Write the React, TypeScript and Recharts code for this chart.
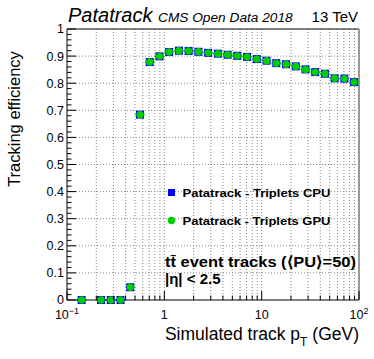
import {
  ScatterChart,
  Scatter,
  XAxis,
  YAxis,
  CartesianGrid,
  ErrorBar,
  ReferenceLine,
} from "recharts";

// bin centres in simulated track pT (GeV), log-spaced bins
const ptCenters = [
  0.1413, 0.2239, 0.2818, 0.3548, 0.4467, 0.5623, 0.7079, 0.8913,
  1.122, 1.413, 1.778, 2.239, 2.818, 3.548, 4.467, 5.623, 7.079, 8.913,
  11.22, 14.13, 17.78, 22.39, 28.18, 35.48, 44.67, 56.23, 70.79, 89.13,
];

const cpuEff = [
  0, 0, 0, 0, 0.047, 0.684, 0.878, 0.899,
  0.915, 0.92, 0.919, 0.916, 0.912, 0.909, 0.905, 0.901, 0.897, 0.889,
  0.883, 0.874, 0.87, 0.862, 0.851, 0.841, 0.835, 0.818, 0.817, 0.804,
];

const gpuEff = [
  0, 0, 0, 0, 0.047, 0.684, 0.878, 0.899,
  0.915, 0.92, 0.919, 0.916, 0.912, 0.909, 0.905, 0.901, 0.897, 0.889,
  0.883, 0.874, 0.87, 0.862, 0.851, 0.841, 0.835, 0.818, 0.817, 0.804,
];

const xTicks = [
  0.1, 0.2, 0.3, 0.4, 0.5, 0.6, 0.7, 0.8, 0.9,
  1, 2, 3, 4, 5, 6, 7, 8, 9,
  10, 20, 30, 40, 50, 60, 70, 80, 90, 100,
];
const xGrid = xTicks.filter((v) => v > 0.1 && v < 100);

const yTicks: number[] = [];
for (let i = 0; i <= 50; i++) yTicks.push(Math.round(i * 2) / 100);

const FONT = "'Liberation Sans', Arial, Helvetica, sans-serif";
const GREEN = "#00cc00";
const BLUE = "#0000ff";

// half bin width (bins are 0.1 decades wide)
const halfBin = Math.pow(10, 0.05);
const toRows = (eff: number[]) =>
  ptCenters.map((pt, i) => ({
    x: pt,
    y: eff[i],
    ex: [pt - pt / halfBin, pt * halfBin - pt],
  }));

const cpuData = toRows(cpuEff);
const gpuData = toRows(gpuEff);

const isMajorY = (v: number) => Math.abs(v * 10 - Math.round(v * 10)) < 1e-6;

const YTick = (props: any) => {
  const { x, y, payload } = props;
  const v = payload.value;
  const axisX = x + 3;
  const major = isMajorY(v);
  return (
    <g>
      <line x1={axisX} x2={axisX + (major ? 9 : 4.5)} y1={y} y2={y} stroke="#000" />
      {major && (
        <text x={x} y={y} dy="0.355em" textAnchor="end" fontSize={12.5} fontFamily={FONT} fill="#000">
          {v === 0 ? "0" : v === 1 ? "1" : v.toFixed(1)}
        </text>
      )}
    </g>
  );
};

const xLabels: { [k: string]: [string, string] } = {
  "0.1": ["10", "\u22121"],
  "1": ["1", ""],
  "10": ["10", ""],
  "100": ["10", "2"],
};

const XTick = (props: any) => {
  const { x, y, payload } = props;
  const v = payload.value;
  const axisY = y - 9;
  const lbl = xLabels[String(v)];
  return (
    <g>
      <line x1={x} x2={x} y1={axisY} y2={axisY - (lbl ? 9 : 4.5)} stroke="#000" />
      {lbl && (
        <text x={x} y={axisY + 19} textAnchor="middle" fontSize={12.5} fontFamily={FONT} fill="#000">
          {lbl[0]}
          {lbl[1] && (
            <tspan dy="-5" fontSize={9}>
              {lbl[1]}
            </tspan>
          )}
        </text>
      )}
    </g>
  );
};

const Square = (props: any) => (
  <rect x={props.cx - 4} y={props.cy - 4} width={8} height={8} fill={BLUE} />
);
const Dot = (props: any) => <circle cx={props.cx} cy={props.cy} r={3.7} fill={GREEN} />;

export default function App() {
  return (
    <div style={{ position: "absolute", left: 0, top: 0, width: 374, height: 359, background: "#fff" }}>
      <ScatterChart width={374} height={359} margin={{ top: 29, right: 15, bottom: 29, left: 27 }}>
        <CartesianGrid
          horizontalValues={[0.1, 0.2, 0.3, 0.4, 0.5, 0.6, 0.7, 0.8, 0.9]}
          verticalValues={xGrid}
          stroke="#888"
          strokeDasharray="1 2"
        />
        <XAxis
          dataKey="x"
          type="number"
          scale="log"
          domain={[0.1, 100]}
          allowDataOverflow
          ticks={xTicks}
          interval={0}
          height={30}
          tickSize={0}
          tickMargin={9}
          tickLine={false}
          axisLine={{ stroke: "#000" }}
          tick={<XTick />}
        />
        <YAxis
          dataKey="y"
          type="number"
          domain={[0, 1]}
          ticks={yTicks}
          interval={0}
          width={40}
          tickSize={0}
          tickMargin={3}
          tickLine={false}
          axisLine={{ stroke: "#000" }}
          tick={<YTick />}
        />
        <ReferenceLine y={1} stroke="#000" />
        <ReferenceLine x={100} stroke="#999" strokeWidth={2} />
        <Scatter data={cpuData} fill={BLUE} shape={<Square />} isAnimationActive={false} />
        <Scatter data={gpuData} fill={GREEN} shape={<Dot />} isAnimationActive={false}>
          <ErrorBar dataKey="ex" direction="x" width={0} stroke={GREEN} strokeWidth={1.5} />
        </Scatter>

        <text x={68} y={22} fontSize={20} fontStyle="italic" fontFamily={FONT} fill="#000">
          Patatrack
        </text>
        <text x={158} y={22} fontSize={13.7} fontStyle="italic" fontFamily={FONT} fill="#000">
          CMS Open Data 2018
        </text>
        <text x={358} y={22} fontSize={15} textAnchor="end" fontFamily={FONT} fill="#000">
          13 TeV
        </text>
        <text transform="translate(19.5,119) rotate(-90)" textAnchor="middle" fontSize={16.5} fontFamily={FONT} fill="#000">
          Tracking efficiency
        </text>
        <text x={359} y={340} textAnchor="end" fontSize={17.5} fontFamily={FONT} fill="#000">
          Simulated track p
          <tspan dy="6" fontSize={12}>T</tspan>
          <tspan dy="-6"> (GeV)</tspan>
        </text>

        <rect x={168} y={189} width={7} height={7} fill={BLUE} />
        <text x={182.5} y={197} fontSize={11.5} fontWeight="bold" fontFamily={FONT} fill="#000" textLength={148} lengthAdjust="spacingAndGlyphs">
          Patatrack - Triplets CPU
        </text>
        <circle cx={171.5} cy={220.5} r={3.7} fill={GREEN} />
        <text x={182.5} y={225} fontSize={11.5} fontWeight="bold" fontFamily={FONT} fill="#000" textLength={148} lengthAdjust="spacingAndGlyphs">
          Patatrack - Triplets GPU
        </text>

        <text x={165} y={267} fontSize={15} fontWeight="bold" fontFamily={FONT} fill="#000" textLength={191} lengthAdjust="spacingAndGlyphs">
          {"tt\u0304 event tracks (\u27E8PU\u27E9=50)"}
        </text>
        <text x={165} y={284} fontSize={15} fontWeight="bold" fontFamily={FONT} fill="#000">
          {"|\u03B7| < 2.5"}
        </text>
      </ScatterChart>
    </div>
  );
}
